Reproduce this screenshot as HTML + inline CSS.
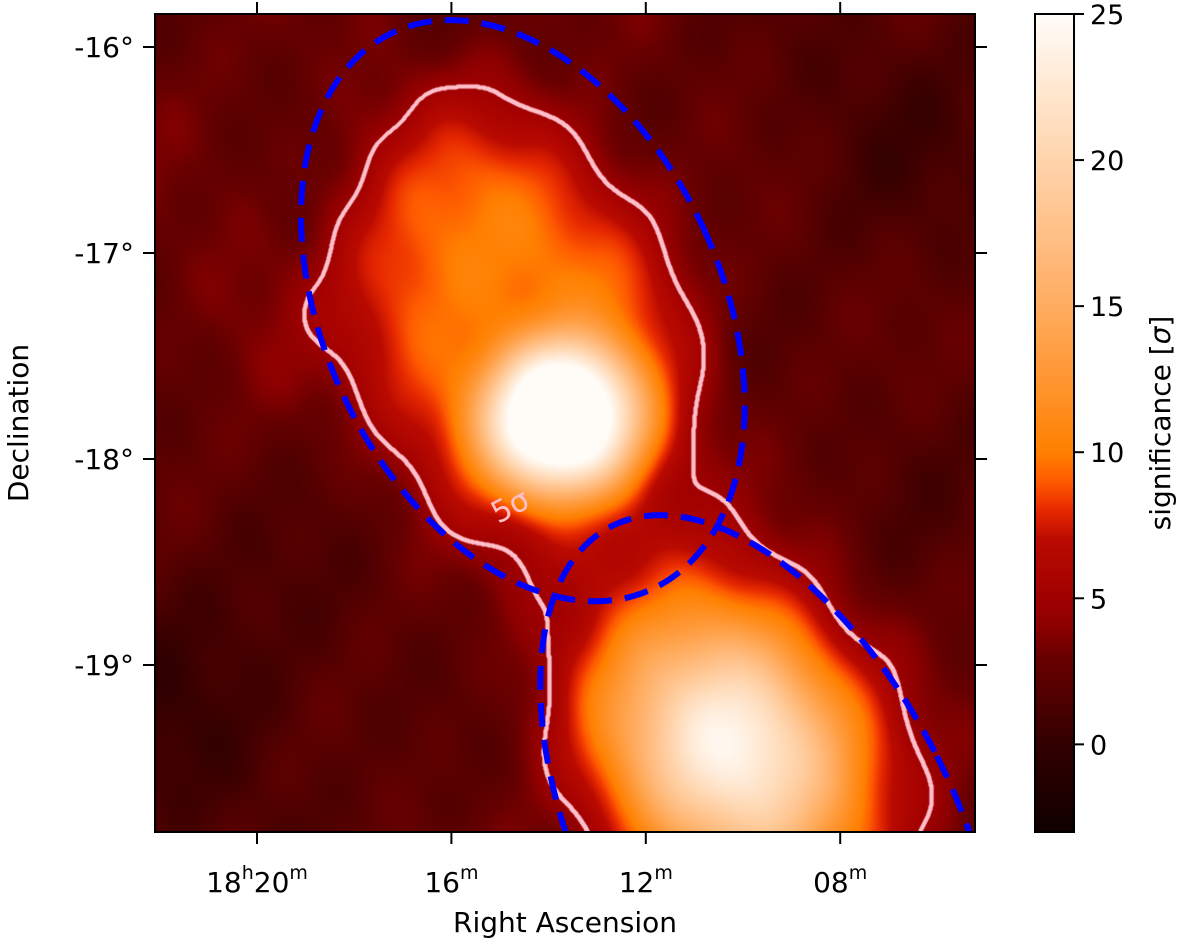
<!DOCTYPE html>
<html><head><meta charset="utf-8">
<style>
html,body{margin:0;background:#fff;width:1200px;height:947px;overflow:hidden;font-family:"DejaVu Sans","Liberation Sans",sans-serif}
#wrap{position:relative;width:1200px;height:947px;overflow:hidden}
canvas{position:absolute}
svg{position:absolute;left:0;top:0;overflow:hidden}
</style></head><body>
<div id="wrap">
<canvas id="map" width="820" height="818" style="left:155px;top:14px"></canvas>
<svg id="ov" width="1200" height="940"><defs id="defs"><clipPath id="pc"><rect x="155" y="14" width="820" height="818"/></clipPath></defs><g id="ellg" clip-path="url(#pc)"></g></svg>
</div>
<script>
// ---- data ----
const raTicks = [20, 16, 12, 8];            // minutes past 18h
const raTickLabels = ["18h20m","16m","12m","08m"];
const decTicks = [-16, -17, -18, -19];
const cbTicks = [0, 5, 10, 15, 20, 25];
const cbMin = -3, cbMax = 25;
const contourLevel = 5;
// components: ra (min), dec (deg), amplitude (sigma), sigma_ra (min), sigma_dec (deg), rotation (deg), profile power
const srcRA   = [13.75, 14.65, 10.2, 10.2];
const srcDec  = [-17.8, -17.35, -19.45, -19.38];
const srcAmp  = [20, 7.5, 8, 14];
const srcSRA  = [1.3, 2.85, 2.35, 1.5];
const srcSDec = [0.3, 0.95, 0.85, 0.4];
const srcRot  = [0, -24, -30, -30];
const srcPow  = [3, 4, 3, 2];
const background = 2.6;
// colormap stops (value -> rgb)
const cmapV = [-3, 0, 3, 4, 5, 7, 8, 9, 10, 12.5, 15, 17.5, 20, 25];
const cmapR = [15, 50, 105, 140, 160, 185, 230, 255, 255, 255, 255, 255, 255, 255];
const cmapG = [0, 0, 0, 0, 0, 10, 40, 90, 128, 150, 172, 192, 212, 252];
const cmapB = [0, 0, 0, 0, 0, 0, 0, 0, 0, 50, 95, 135, 172, 248];
// ellipse regions
const ellRA  = [14.53, 9.44];
const ellDec = [-17.28, -19.85];
const ellA   = [0.964, 0.906];   // minor semi-axis (deg)
const ellB   = [1.49, 1.707];    // major semi-axis (deg)
const ellRot = [-25, -26.8];

// ---- axes ----
const PX0=155, PY0=14, PW=820, PH=818;
const xOf = ra => 257 + (20 - ra) * 48.6;
const yOf = dec => 47 + (-16 - dec) * 206;
const cbY = v => 832 - (v - cbMin) / (cbMax - cbMin) * 818;

function cmap(v){
 if(v<=cmapV[0])return [cmapR[0],cmapG[0],cmapB[0]];
 for(let i=1;i<cmapV.length;i++){ if(v<=cmapV[i]){const t=(v-cmapV[i-1])/(cmapV[i]-cmapV[i-1]);
   return [cmapR[i-1]+t*(cmapR[i]-cmapR[i-1]),cmapG[i-1]+t*(cmapG[i]-cmapG[i-1]),cmapB[i-1]+t*(cmapB[i]-cmapB[i-1])];}}
 const n=cmapV.length-1;return [cmapR[n],cmapG[n],cmapB[n]];
}

function field(x,y){
 let v=background
   +0.6*Math.sin(x*0.021+1.3)*Math.cos(y*0.017+0.4)
   +0.4*Math.sin(x*0.047+y*0.031+2.1)
   +0.2*Math.cos(x*0.07-y*0.05)
   -2.0*Math.exp(-(((x-180)/190)**2+((y-700)/190)**2))
   -1.5*Math.exp(-(((x-900)/150)**2+((y-120)/160)**2))
   -1.0*Math.exp(-(((x-930)/100)**2+((y-450)/120)**2))
   +1.0*Math.exp(-(((x-250)/80)**2+((y-320)/90)**2));
 for(let i=0;i<srcRA.length;i++){
   const dx=x-xOf(srcRA[i]), dy=y-yOf(srcDec[i]);
   const th=srcRot[i]*Math.PI/180;
   const u=dx*Math.cos(th)+dy*Math.sin(th), w=-dx*Math.sin(th)+dy*Math.cos(th);
   const su=srcSRA[i]*48.6, sw=srcSDec[i]*206;
   const r2=(u/su)**2+(w/sw)**2;
   v+=srcAmp[i]*Math.exp(-0.5*Math.pow(r2,srcPow[i]/2));
 }
 return v;
}

// ---- render map ----
const cv=document.getElementById('map'), ctx=cv.getContext('2d');
const img=ctx.createImageData(PW,PH);
const V=new Float32Array(PW*PH);
for(let j=0;j<PH;j++)for(let i=0;i<PW;i++){
 const v=field(PX0+i,PY0+j); V[j*PW+i]=v;
 const c=cmap(v); const k=(j*PW+i)*4;
 img.data[k]=c[0];img.data[k+1]=c[1];img.data[k+2]=c[2];img.data[k+3]=255;
}
ctx.putImageData(img,0,0);
ctx.fillStyle='#ffc0cb';
for(let j=0;j<PH-1;j++)for(let i=0;i<PW-1;i++){
 const a=V[j*PW+i]>contourLevel;
 if(a!==(V[j*PW+i+1]>contourLevel)||a!==(V[(j+1)*PW+i]>contourLevel)){
   ctx.beginPath();ctx.arc(i+0.5,j+0.5,2,0,7);ctx.fill();
 }
}

// ---- SVG overlay ----
const NS='http://www.w3.org/2000/svg', ov=document.getElementById('ov');
const ellg=document.getElementById('ellg'), defs=document.getElementById('defs');
function el(tag,attrs,parent){const e=document.createElementNS(NS,tag);for(const k in attrs)e.setAttribute(k,attrs[k]);(parent||ov).appendChild(e);return e;}

for(let i=0;i<ellRA.length;i++){
 const cx=xOf(ellRA[i]), cy=yOf(ellDec[i]);
 const e=el('ellipse',{cx:cx,cy:cy,rx:ellA[i]*206,ry:ellB[i]*206,
   transform:`rotate(${ellRot[i]} ${cx} ${cy})`,fill:'none',stroke:'#0000ff','stroke-width':6,'stroke-dasharray':'24 13'},ellg);
 
 
}

const lbl=el('text',{x:515,y:515,fill:'#ffc0cb','font-size':30,'text-anchor':'middle',transform:'rotate(-28 515 515)'});
lbl.textContent='5σ';



const frame=el('rect',{x:PX0,y:PY0,width:PW,height:PH,fill:'none',stroke:'#000','stroke-width':2});



raTicks.forEach((r,i)=>{
 const x=xOf(r);
 el('line',{x1:x,y1:PY0,x2:x,y2:PY0-12,stroke:'#000','stroke-width':2});
 el('line',{x1:x,y1:PY0+PH,x2:x,y2:PY0+PH+12,stroke:'#000','stroke-width':2});
 const m=raTickLabels[i].match(/^(?:(\d+)h)?(\d+)m$/);
 const t=el('text',{x:x,y:892,'font-size':28,'text-anchor':'middle',fill:'#000'});
 if(m[1]){const a=el('tspan',{},t);a.textContent=m[1];const b=el('tspan',{'font-size':19,dy:-13},t);b.textContent='h';const c=el('tspan',{dy:13},t);c.textContent=m[2];const d=el('tspan',{'font-size':19,dy:-13},t);d.textContent='m';}
 else{const a=el('tspan',{},t);a.textContent=m[2];const d=el('tspan',{'font-size':19,dy:-13},t);d.textContent='m';}
 
 
});
decTicks.forEach(d=>{
 const y=yOf(d);
 el('line',{x1:PX0,y1:y,x2:PX0-12,y2:y,stroke:'#000','stroke-width':2});
 el('line',{x1:PX0+PW,y1:y,x2:PX0+PW+12,y2:y,stroke:'#000','stroke-width':2});
 const t=el('text',{x:134,y:y+10,'font-size':28,'text-anchor':'end',fill:'#000'});
 t.textContent=d+'°';
 
 
});
const xt=el('text',{x:565,y:932,'font-size':28,'text-anchor':'middle',fill:'#000'});xt.textContent='Right Ascension';


const yt=el('text',{x:28,y:423,'font-size':28,'text-anchor':'middle',fill:'#000',transform:'rotate(-90 28 423)'});yt.textContent='Declination';



// colorbar
const lg=el('linearGradient',{id:'cbg',x1:0,y1:1,x2:0,y2:0},defs);
for(let s=0;s<=56;s++){const v=cbMin+s/56*(cbMax-cbMin);const c=cmap(v).map(Math.round);el('stop',{offset:s/56,'stop-color':`rgb(${c})`},lg);}
const cb=el('rect',{x:1035,y:14,width:39,height:818,fill:'url(#cbg)',stroke:'#000','stroke-width':2});


cbTicks.forEach(v=>{
 const y=cbY(v);
 el('line',{x1:1074,y1:y,x2:1084,y2:y,stroke:'#000','stroke-width':2});
 const t=el('text',{x:1090,y:y+10,'font-size':27,fill:'#000'});t.textContent=v;
 
 
});
const ct=el('text',{x:1170,y:423,'font-size':28,'text-anchor':'middle',fill:'#000',transform:'rotate(-90 1170 423)'});
ct.innerHTML='significance [<tspan font-style="italic">σ</tspan>]';


</script>
</body></html>
